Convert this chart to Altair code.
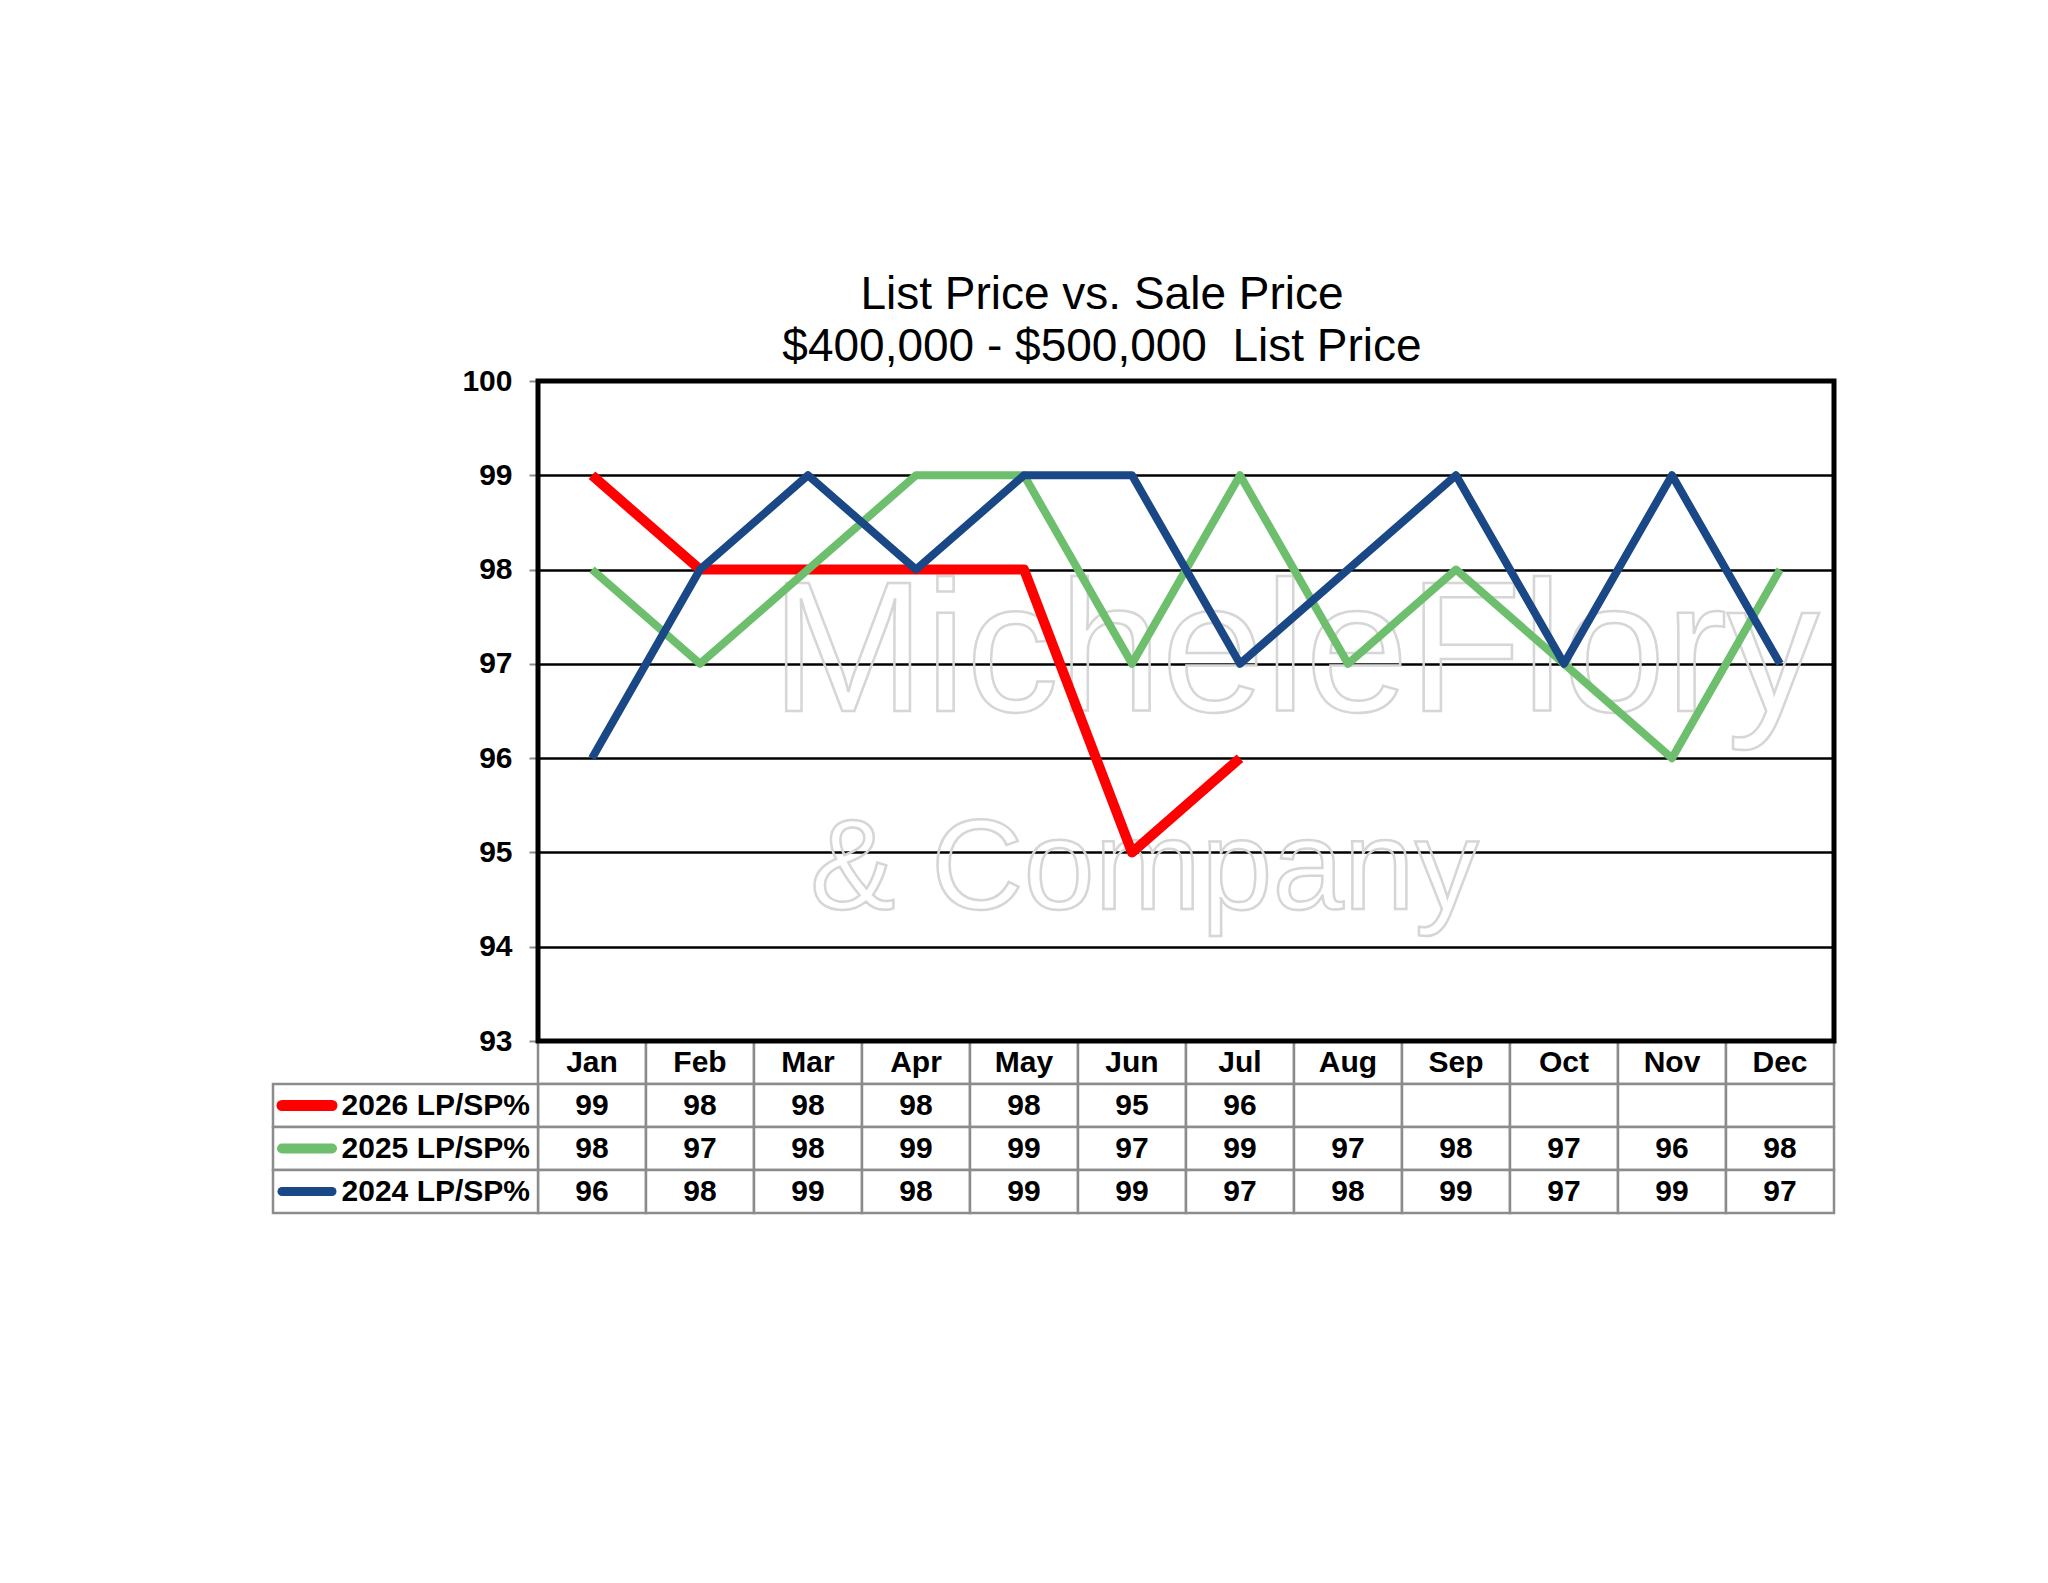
import pandas as pd
import altair as alt

# values
months = ["Jan", "Feb", "Mar", "Apr", "May", "Jun", "Jul", "Aug", "Sep", "Oct", "Nov", "Dec"]
lp_2026 = [99, 98, 98, 98, 98, 95, 96]
lp_2025 = [98, 97, 98, 99, 99, 97, 99, 97, 98, 97, 96, 98]
lp_2024 = [96, 98, 99, 98, 99, 99, 97, 98, 99, 97, 99, 97]
series_names = ["2026 LP/SP%", "2025 LP/SP%", "2024 LP/SP%"]
series_colors = ["#ff0000", "#6dbe6d", "#1a4785"]
y_ticks = [93, 94, 95, 96, 97, 98, 99, 100]
title_lines = ["List Price vs. Sale Price", "$400,000 - $500,000\u00a0 List Price"]
watermark = ["MicheleFlory", "& Company"]

# layout (pixels)
PLOT_W, PLOT_H = 1296, 660
ROW_H = 43
COL_W = PLOT_W / 12
LABEL_COLS = 265 / COL_W
FONT = "Liberation Sans"
GRAY = "#8c8c8c"

series_values = [lp_2026, lp_2025, lp_2024]
line_widths = [10, 8, 8]

lines_df = pd.DataFrame([
    {"month": months[i], "value": v, "series": name}
    for name, vals in zip(series_names, series_values)
    for i, v in enumerate(vals)
])

# ---- line chart part
y_scale = alt.Scale(domain=[93, 100], range=[PLOT_H, 0], nice=False, zero=False)
y_axis = alt.Axis(values=y_ticks, title=None, grid=True, gridColor="black", gridWidth=2.5,
                  domainColor=GRAY, domainWidth=3, tickColor=GRAY, tickWidth=2, tickSize=9,
                  labelFont=FONT, labelFontSize=30, labelFontWeight="bold", labelColor="black",
                  labelPadding=17)
x_month = alt.X("month:O", scale=alt.Scale(type="point", domain=months, padding=0.5), axis=None)
y_pct = alt.Y("value:Q", scale=y_scale, axis=y_axis)

# faint outlined watermark behind the lines
wm_big = alt.Chart(pd.DataFrame({"t": [watermark[0]]})).mark_text(
    font=FONT, fontSize=185, fillOpacity=0, stroke="#d6d6d6", strokeWidth=2.5,
    align="left", baseline="alphabetic"
).encode(text="t:N", x=alt.value(233), y=alt.value(330))

wm_small = alt.Chart(pd.DataFrame({"t": [watermark[1]]})).mark_text(
    font=FONT, fontSize=128, fillOpacity=0, stroke="#d6d6d6", strokeWidth=2.5,
    align="left", baseline="alphabetic"
).encode(text="t:N", x=alt.value(272), y=alt.value(528))

line_layers = []
for name, color, w in zip(series_names, series_colors, line_widths):
    line_layers.append(
        alt.Chart(lines_df).transform_filter(alt.datum.series == name)
        .mark_line(color=color, strokeWidth=w, strokeJoin="round")
        .encode(x=x_month, y=y_pct)
    )

frame = alt.Chart(pd.DataFrame({"value": [100], "value2": [93]})).mark_rect(
    fillOpacity=0, stroke="black", strokeWidth=5
).encode(x=alt.value(0), x2=alt.value(PLOT_W), y=y_pct, y2="value2:Q")

line_group = alt.layer(wm_big, wm_small, *line_layers, frame)

# ---- data table part
cells = []
for i, m in enumerate(months):
    cells.append({"c0": i, "c1": i + 1, "r0": 0, "r1": 1, "text": m})
for k, vals in enumerate(series_values, start=1):
    for i in range(12):
        cells.append({"c0": i, "c1": i + 1, "r0": k, "r1": k + 1,
                      "text": str(vals[i]) if i < len(vals) else ""})
cells_df = pd.DataFrame(cells)
cells_df["cx"] = (cells_df["c0"] + cells_df["c1"]) / 2
cells_df["cy"] = (cells_df["r0"] + cells_df["r1"]) / 2

labels_df = pd.DataFrame({
    "series": series_names,
    "r0": [1, 2, 3],
    "r1": [2, 3, 4],
})
labels_df["c0"] = -LABEL_COLS
labels_df["c1"] = 0
labels_df["cy"] = (labels_df["r0"] + labels_df["r1"]) / 2
labels_df["tx"] = -8 / COL_W
labels_df["s0"] = (282 - 538) / COL_W
labels_df["s1"] = (332 - 538) / COL_W

x_col = alt.Scale(domain=[0, 12], range=[0, PLOT_W], nice=False, zero=False)
y_row = alt.Scale(domain=[0, 4], range=[PLOT_H, PLOT_H + 4 * ROW_H], nice=False, zero=False)
series_color = alt.Color("series:N", scale=alt.Scale(domain=series_names, range=series_colors), legend=None)

cell_rects = alt.Chart(pd.concat([cells_df, labels_df])).mark_rect(
    fill="white", stroke=GRAY, strokeWidth=2.5
).encode(
    x=alt.X("c0:Q", scale=x_col, axis=None), x2="c1:Q",
    y=alt.Y("r0:Q", scale=y_row, axis=None), y2="r1:Q",
)

cell_text = alt.Chart(cells_df).mark_text(
    font=FONT, fontSize=30, fontWeight="bold", color="black", baseline="middle"
).encode(
    x=alt.X("cx:Q", scale=x_col, axis=None),
    y=alt.Y("cy:Q", scale=y_row, axis=None),
    text="text:N",
)

label_text = alt.Chart(labels_df).mark_text(
    font=FONT, fontSize=30, fontWeight="bold", color="black", baseline="middle", align="right"
).encode(
    x=alt.X("tx:Q", scale=x_col, axis=None),
    y=alt.Y("cy:Q", scale=y_row, axis=None),
    text="series:N",
)

swatches = alt.Chart(labels_df).mark_rule(strokeCap="round").encode(
    x=alt.X("s0:Q", scale=x_col, axis=None), x2="s1:Q",
    y=alt.Y("cy:Q", scale=y_row, axis=None),
    color=series_color,
    strokeWidth=alt.StrokeWidth("series:N", scale=alt.Scale(domain=series_names, range=[11, 9, 9]),
                                legend=None),
)

table_group = alt.layer(cell_rects, cell_text, label_text, swatches)

chart = alt.layer(table_group, line_group).resolve_scale(
    x="independent", y="independent"
).properties(
    width=PLOT_W,
    height=PLOT_H + 4 * ROW_H,
    title=alt.TitleParams(title_lines, font=FONT, fontSize=46, fontWeight="normal", color="black",
                          lineHeight=52, anchor="middle", frame="group", dx=-84, offset=-5),
    autosize=alt.AutoSizeParams(type="none"),
    padding={"left": 530, "top": 373, "right": 200, "bottom": 300},
    background="white",
).configure_view(stroke=None)

chart.save("out.html", embed_options={"renderer": "svg", "actions": False})
